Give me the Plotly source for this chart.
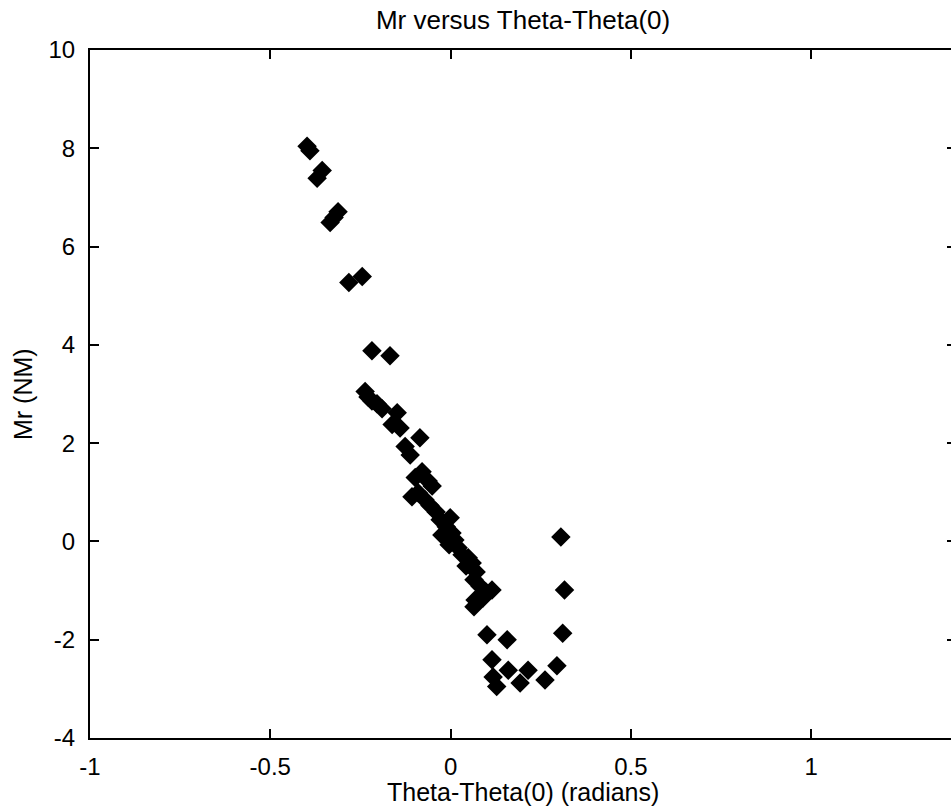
import plotly.graph_objects as go

# Theta - Theta(0) (radians) and Mr (NM)
theta = [-0.398, -0.390, -0.370, -0.356, -0.334, -0.323, -0.312, -0.282, -0.245,
         -0.218, -0.168, -0.237, -0.229, -0.218, -0.204, -0.190, -0.148, -0.162,
         -0.140, -0.085, -0.126, -0.112, -0.098, -0.079, -0.062, -0.051, -0.107,
         -0.090, -0.071, -0.057, -0.040, -0.029, -0.012, -0.001, 0.004, 0.012,
         -0.024, -0.004, 0.021, 0.032, 0.049, 0.060, 0.043, 0.071, 0.065, 0.082,
         0.098, 0.115, 0.068, 0.065, 0.090,
         0.101, 0.157, 0.115, 0.128, 0.160, 0.118, 0.193, 0.215, 0.262, 0.295,
         0.311, 0.316, 0.306]
mr = [8.04, 7.95, 7.39, 7.55, 6.49, 6.59, 6.71, 5.27, 5.39,
      3.88, 3.78, 3.05, 2.94, 2.86, 2.80, 2.70, 2.62, 2.38,
      2.31, 2.11, 1.93, 1.76, 1.30, 1.42, 1.23, 1.13, 0.91,
      0.99, 0.85, 0.73, 0.60, 0.44, 0.30, 0.48, 0.17, 0.03,
      0.13, -0.07, -0.13, -0.27, -0.33, -0.44, -0.50, -0.62, -0.78, -0.91,
      -1.03, -0.99, -1.19, -1.33, -1.15,
      -1.90, -2.00, -2.41, -2.95, -2.62, -2.76, -2.88, -2.62, -2.82, -2.53,
      -1.87, -0.99, 0.09]

x_ticks = [-1, -0.5, 0, 0.5, 1]
x_ticktext = ["-1", "-0.5", "0", "0.5", "1"]
y_ticks = [-4, -2, 0, 2, 4, 6, 8, 10]
y_ticktext = ["-4", "-2", "0", "2", "4", "6", "8", "10"]

FONT = "Liberation Sans, Arial, sans-serif"

fig = go.Figure()
fig.add_trace(go.Scatter(
    x=theta, y=mr, mode="markers",
    marker=dict(symbol="diamond", size=15, color="black", line=dict(width=0)),
    showlegend=False, hoverinfo="x+y",
))
# empty trace so the right-hand tick axis gets drawn
fig.add_trace(go.Scatter(x=[None], y=[None], yaxis="y2", mode="markers",
                         showlegend=False, hoverinfo="skip"))

fig.update_layout(
    width=951, height=810,
    margin=dict(l=90, r=0, t=50, b=72),
    paper_bgcolor="white", plot_bgcolor="white",
    font=dict(family=FONT, color="black", size=24),
    title=dict(text="Mr versus Theta-Theta(0)", x=0.503, xref="paper",
               xanchor="center", y=1 - 20 / 810, yref="container", yanchor="middle",
               font=dict(family=FONT, size=26, color="black")),
    xaxis=dict(range=[-1, 1.388], tickvals=x_ticks, ticktext=x_ticktext,
               ticks="inside", ticklen=9, tickwidth=1.5, tickcolor="black",
               showline=True, linecolor="black", linewidth=2, mirror="ticks",
               showgrid=False, zeroline=False, ticklabelstandoff=6,
               tickfont=dict(size=24)),
    yaxis=dict(range=[-4, 10], tickvals=y_ticks, ticktext=y_ticktext,
               ticks="inside", ticklen=9, tickwidth=1.5, tickcolor="black",
               showline=True, linecolor="black", linewidth=2, mirror=False,
               showgrid=False, zeroline=False, ticklabelstandoff=8,
               tickfont=dict(size=24)),
    yaxis2=dict(range=[-4, 10], tickvals=y_ticks, overlaying="y", side="right",
                anchor="x", ticks="inside", ticklen=4, tickwidth=1.5,
                tickcolor="black", showticklabels=False, showline=False,
                showgrid=False, zeroline=False),
)

fig.add_annotation(text="Theta-Theta(0) (radians)", xref="paper", yref="paper",
                   x=0.503, y=(738 - 792) / 687.5, xanchor="center", yanchor="middle",
                   showarrow=False, font=dict(family=FONT, size=25, color="black"))
fig.add_annotation(text="Mr (NM)", xref="paper", yref="paper",
                   x=(23 - 90) / 861, y=0.5, xanchor="center", yanchor="middle",
                   textangle=-90, showarrow=False,
                   font=dict(family=FONT, size=25, color="black"))

fig.write_html("out.html")
